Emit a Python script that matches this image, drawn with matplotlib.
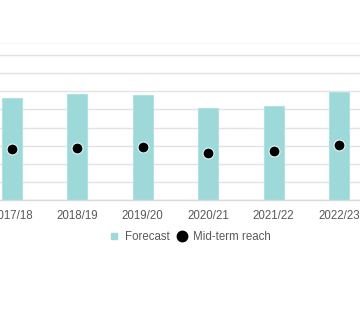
import matplotlib.pyplot as plt
from matplotlib.lines import Line2D

plt.rcParams['font.family'] = ['Liberation Sans', 'DejaVu Sans']

years = ['2017/18', '2018/19', '2019/20', '2020/21', '2021/22', '2022/23']
forecast = [5.65, 5.84, 5.80, 5.10, 5.18, 5.95]
mid_term = [2.82, 2.87, 2.93, 2.61, 2.72, 3.04]

bar_col = '#9dd9d8'
txt_col = '#595959'

fig = plt.figure(figsize=(3.6, 3.25), dpi=100)
ax = fig.add_axes([0, 0.3846, 1, 0.4831])

x = range(len(years))
ax.bar(x, forecast, width=0.306, color=bar_col, edgecolor='#aee3e2', linewidth=0.8, zorder=2)
ax.scatter(x, mid_term, s=62, color='black', edgecolor='#e8f8f8', linewidth=0.8, zorder=3)

ax.set_xlim(-0.183, 5.32)
ax.set_ylim(0, 8.67)
ax.set_yticks(range(0, 9))
ax.yaxis.grid(True, color='#e3e3e3', linewidth=1.0, zorder=0)
ax.set_axisbelow(True)
ax.tick_params(axis='y', left=False, labelleft=False)
ax.tick_params(axis='x', length=0, pad=7, labelsize=8.3, labelcolor=txt_col)
ax.set_xticks(list(x))
ax.set_xticklabels(years)

for s in ['left', 'right']:
    ax.spines[s].set_visible(False)
ax.spines['top'].set_color('#f6f6f6')
ax.spines['bottom'].set_color('#d9d9d9')
ax.spines['bottom'].set_linewidth(1.0)

# legend below the axis, square for bars and dot for mid-term
handles = [
    Line2D([], [], marker='s', linestyle='none', markersize=4, color=bar_col),
    Line2D([], [], marker='o', linestyle='none', markersize=7.5, color='black'),
]
fig.legend(handles, ['Forecast', 'Mid-term reach'], loc='center',
           bbox_to_anchor=(0.527, 0.271), ncol=2, frameon=False,
           fontsize=8.3, labelcolor=txt_col, handletextpad=0.45,
           columnspacing=0.6, handlelength=1.0)

fig.savefig('out.png', dpi=100)
